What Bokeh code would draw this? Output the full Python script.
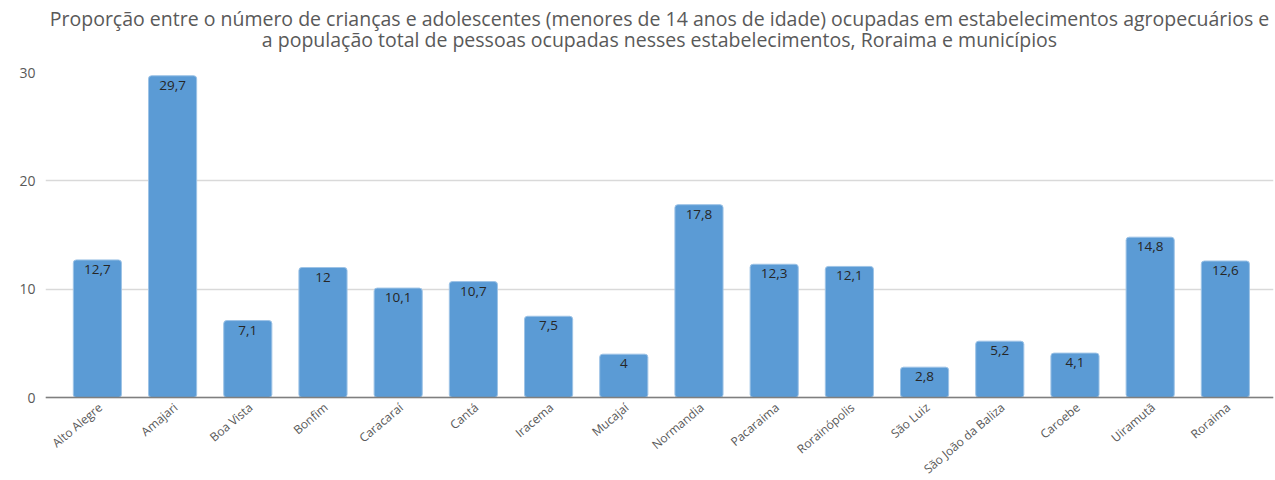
import math
from bokeh.plotting import figure
from bokeh.models import ColumnDataSource, Range1d, FixedTicker, Title, LabelSet, Span
from bokeh.core.properties import value
from bokeh.embed import file_html
from bokeh.resources import INLINE

categories = ["Alto Alegre", "Amajari", "Boa Vista", "Bonfim", "Caracaraí", "Cantá",
              "Iracema", "Mucajaí", "Normandia", "Pacaraima", "Rorainópolis", "São Luiz",
              "São João da Baliza", "Caroebe", "Uiramutã", "Roraima"]
values = [12.7, 29.7, 7.1, 12, 10.1, 10.7, 7.5, 4, 17.8, 12.3, 12.1, 2.8, 5.2, 4.1, 14.8, 12.6]
y_ticks = [0, 10, 20, 30]
title_lines = ["Proporção entre o número de crianças e adolescentes (menores de 14 anos de idade) ocupadas em estabelecimentos agropecuários e",
               "a população total de pessoas ocupadas nesses estabelecimentos, Roraima e municípios"]

def fmt(v):
    return ("%g" % v).replace(".", ",")

xs = list(range(len(categories)))
src = ColumnDataSource(dict(x=xs, top=values, label=[fmt(v) for v in values],
                            cat=categories, zero=[0] * len(categories)))

FONT = "Open Sans"
GRAY = "#595959"

# frame extends to the bottom of the canvas so the rotated category labels are not clipped
p = figure(width=1275, height=480, output_backend="svg", toolbar_location=None,
           x_range=Range1d(-0.69, 15.64), y_range=Range1d(-7.66, 30),
           min_border_left=45, min_border_right=2, min_border_top=72, min_border_bottom=0)
p.outline_line_color = None
p.background_fill_color = "white"

t2 = Title(text=title_lines[1], align="center", text_font=FONT,
           text_font_size="19.5px", text_font_style="normal", text_color=GRAY, standoff=39)
t1 = Title(text=title_lines[0], align="center", text_font=FONT,
           text_font_size="19.5px", text_font_style="normal", text_color=GRAY, standoff=-54)
p.add_layout(t2, "above")
p.add_layout(t1, "above")

p.vbar(x="x", top="top", width=0.64, source=src, fill_color="#5B9BD5",
       line_color="#9DC3E6", line_width=1, border_radius=3)
p.text(x="x", y="top", text="label", source=src, text_align="center", text_baseline="top",
       y_offset=5, text_font=value(FONT), text_font_size="13.5px", text_color="#262626")

p.add_layout(Span(location=0, dimension="width", line_color="#7F7F7F", line_width=1.5))

cat_labels = LabelSet(x="x", y="zero", text="cat", source=src, angle=0.70,
                      text_align="right", text_baseline="middle", x_offset=3, y_offset=-8,
                      text_font=value(FONT), text_font_size="12px", text_color=GRAY)
p.add_layout(cat_labels)

p.xaxis.visible = False

p.yaxis.ticker = FixedTicker(ticks=y_ticks)
p.yaxis.major_label_text_font = FONT
p.yaxis.major_label_text_font_size = "14px"
p.yaxis.major_label_text_color = GRAY
p.yaxis.axis_line_color = None
p.yaxis.major_tick_line_color = None
p.yaxis.minor_tick_line_color = None
p.yaxis.major_label_standoff = 4

p.xgrid.grid_line_color = None
p.ygrid.grid_line_color = "#D9D9D9"
p.ygrid.grid_line_width = 1.5

open("out.html", "w").write(file_html(p, INLINE))
